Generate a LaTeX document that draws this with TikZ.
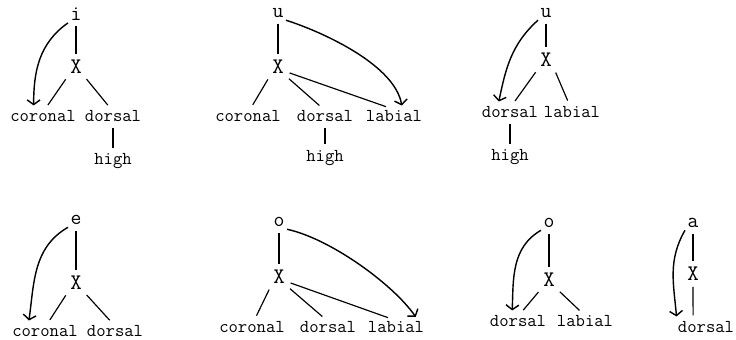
\documentclass[tikz,border=0pt]{standalone}
\usepackage{fontspec}
\usepackage{tikz}
\usetikzlibrary{arrows.meta, positioning}

\tikzset{
  seg/.style={inner sep=2pt, font=\ttfamily\addfontfeatures{FakeBold=1}\fontsize{18}{18}\selectfont},
  slot/.style={inner sep=2pt, font=\ttfamily\addfontfeatures{FakeBold=1.5}\fontsize{19}{19}\selectfont},
  feat/.style={inner sep=2pt, font=\ttfamily\addfontfeatures{FakeBold=1.5}\fontsize{15.5}{16}\selectfont},
  assoc/.style={line width=1pt, shorten <=3pt, shorten >=3pt},
  spread/.style={line width=1.2pt, shorten >=2pt, -{Straight Barb[length=4pt,width=11pt]}}
}

\begin{document}
\begin{tikzpicture}[x=0.03cm, y=-0.03cm]
  \useasboundingbox (0,0) rectangle (736,339);

  % i
  \node[seg]  (i1)   at (76,14)  {i};
  \node[slot] (x1)   at (76,67)  {X};
  \node[feat] (cor1) at (43,116) {coronal};
  \node[feat] (dor1) at (113,116) {dorsal};
  \node[feat, below=23pt of dor1] (high1) {high};
  \draw[assoc] (i1) -- (x1);
  \draw[assoc] (x1.south west) -- (cor1.70);
  \draw[assoc] (x1.south east) -- (dor1.110);
  \draw[assoc] (dor1) -- (high1);
  \draw[spread] (i1.south west) to[out=215, in=90] ([xshift=-8pt]cor1.north);

  % u (front)
  \node[seg]  (u2)   at (278,13)  {u};
  \node[slot] (x2)   at (278,67)  {X};
  \node[feat] (cor2) at (248,116) {coronal};
  \node[feat] (dor2) at (325,116) {dorsal};
  \node[feat] (lab2) at (394,116) {labial};
  \node[feat, below=20pt of dor2] (high2) {high};
  \draw[assoc] (u2) -- (x2);
  \draw[assoc] (x2.south west) -- (cor2.70);
  \draw[assoc] (x2.south east) -- (dor2.110);
  \draw[assoc] (x2.-30) -- (lab2.120);
  \draw[assoc] (dor2) -- (high2);
  \draw[spread] (u2.south east) to[out=-18, in=100, looseness=0.75] ([xshift=7pt]lab2.north);

  % u (back)
  \node[seg]  (u3)   at (546,13)  {u};
  \node[slot] (x3)   at (546,60)  {X};
  \node[feat] (dor3) at (510,112) {dorsal};
  \node[feat] (lab3) at (572,112) {labial};
  \node[feat, below=23pt of dor3] (high3) {high};
  \draw[assoc] (u3) -- (x3);
  \draw[assoc] (x3.south west) -- (dor3.70);
  \draw[assoc] (x3.south east) -- (lab3.110);
  \draw[assoc] (dor3) -- (high3);
  \draw[spread] (u3.south west) to[out=222, in=78] ([xshift=-10pt]dor3.north);

  % e
  \node[seg]  (e4)   at (76,220)  {e};
  \node[slot] (x4)   at (76,283)  {X};
  \node[feat] (cor4) at (45,331)  {coronal};
  \node[feat] (dor4) at (115,331) {dorsal};
  \draw[assoc] (e4) -- (x4);
  \draw[assoc] (x4.south west) -- (cor4.70);
  \draw[assoc] (x4.south east) -- (dor4.110);
  \draw[spread] (e4.south west) to[out=210, in=82] ([xshift=-14pt]cor4.north);

  % o (front)
  \node[seg]  (o5)   at (279,222) {o};
  \node[slot] (x5)   at (279,277) {X};
  \node[feat] (cor5) at (252,327) {coronal};
  \node[feat] (dor5) at (328,327) {dorsal};
  \node[feat] (lab5) at (396,327) {labial};
  \draw[assoc] (o5) -- (x5);
  \draw[assoc] (x5.south west) -- (cor5.70);
  \draw[assoc] (x5.south east) -- (dor5.110);
  \draw[assoc] (x5.-30) -- (lab5.120);
  \draw[spread] (o5.south east) to[out=-12, in=125, looseness=0.7] ([xshift=18pt]lab5.north);

  % o (back)
  \node[seg]  (o6)   at (549,223) {o};
  \node[slot] (x6)   at (549,280) {X};
  \node[feat] (dor6) at (518,321) {dorsal};
  \node[feat] (lab6) at (585,321) {labial};
  \draw[assoc] (o6) -- (x6);
  \draw[assoc] (x6.south west) -- (dor6.70);
  \draw[assoc] (x6.south east) -- (lab6.110);
  \draw[spread] (o6.south west) to[out=210, in=88] ([xshift=-5pt]dor6.north);

  % a
  \node[seg]  (a7)   at (693,223) {a};
  \node[slot] (x7)   at (693,274) {X};
  \node[feat] (dor7) at (706,327) {dorsal};
  \draw[assoc] (a7) -- (x7);
  \draw[assoc] (x7.south) -- ([xshift=-11pt]dor7.north);
  \draw[spread] (a7.south west) to[out=240, in=95] ([xshift=-25pt]dor7.north);
\end{tikzpicture}
\end{document}
